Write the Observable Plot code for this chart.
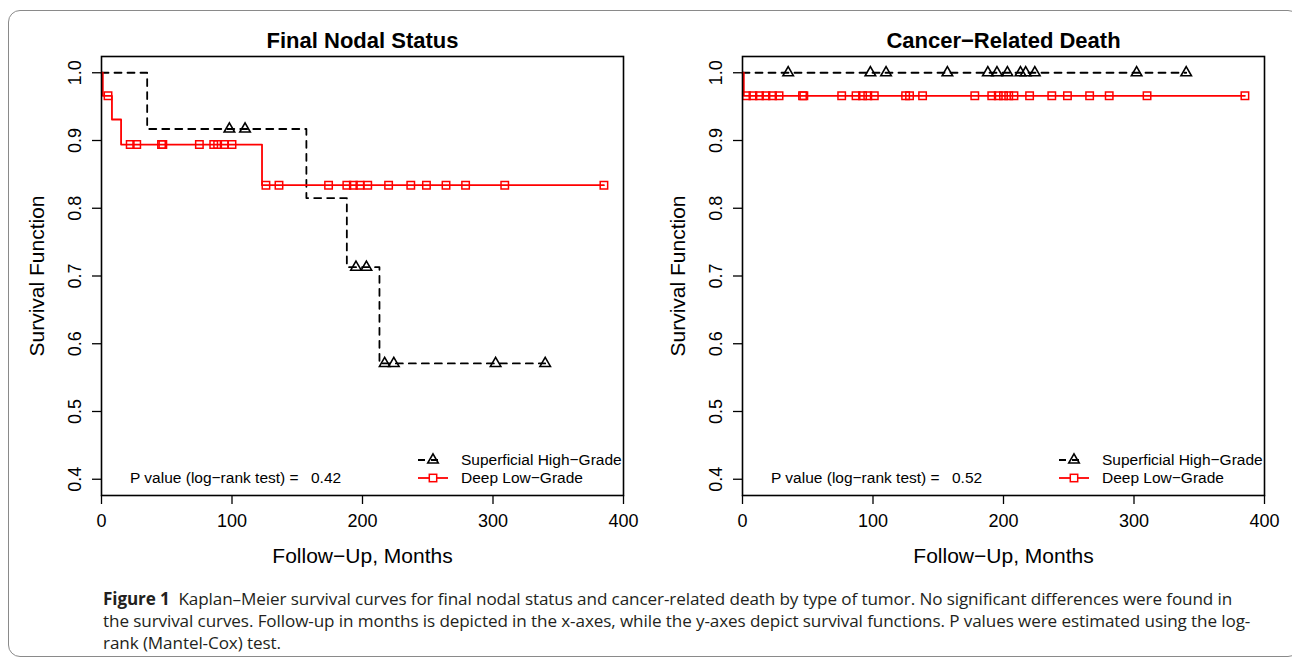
<!DOCTYPE html>
<html>
<head>
<meta charset="utf-8">
<script src="https://cdn.jsdelivr.net/npm/d3@7"></script>
<script src="https://cdn.jsdelivr.net/npm/@observablehq/plot@0.6"></script>
<style>
  body { margin: 0; background: #fff; }
  #wrap { position: relative; width: 1292px; height: 662px; overflow: hidden; background: #fff; }
  #frame { position: absolute; left: 8px; top: 10px; width: 1292px; height: 647px; border: 1.5px solid #8a8a8a; border-radius: 12px; box-sizing: border-box; }
  .panel { position: absolute; top: 0; }
  #left { left: 0; }
  #right { left: 646px; }
  #caption { position: absolute; left: 103px; top: 588px; font-family: "Open Sans", Lato, sans-serif; font-size: 17.1px; line-height: 22px; white-space: nowrap; color: #231f20; letter-spacing: -0.1px; }
  #caption b { font-weight: 700; }
</style>
</head>
<body>
<div id="wrap">
  <div id="frame"></div>
  <div id="left" class="panel"></div>
  <div id="right" class="panel"></div>
  <div id="caption">
    <b>Figure 1</b>&nbsp; Kaplan–Meier survival curves for final nodal status and cancer-related death by type of tumor. No significant differences were found in<br>
    the survival curves. Follow-up in months is depicted in the x-axes, while the y-axes depict survival functions. P values were estimated using the log-<br>
    rank (Mantel-Cox) test.
  </div>
</div>
<script>
// ---------- data ----------
const xTicks = [0, 100, 200, 300, 400];
const yTicks = [0.4, 0.5, 0.6, 0.7, 0.8, 0.9, 1.0];
const seriesNames = ["Superficial High\u2212Grade", "Deep Low\u2212Grade"];

// Panel 1: Final Nodal Status
const nodalHighTime = [0, 35, 157, 188, 213, 340];
const nodalHighSurv = [1.0, 0.917, 0.815, 0.713, 0.571, 0.571];
const nodalHighCensTime = [98, 110, 195, 203, 217, 224, 302, 340];
const nodalHighCensSurv = [0.917, 0.917, 0.713, 0.713, 0.571, 0.571, 0.571, 0.571];
const nodalLowTime = [0, 1, 8, 15, 123, 385];
const nodalLowSurv = [1.0, 0.966, 0.931, 0.894, 0.834, 0.834];
const nodalLowCensTime = [5, 22, 27, 46, 47, 75, 86, 89, 94, 100, 126, 136, 174, 188, 193, 198, 204, 220, 237, 249, 264, 279, 309, 385];
const nodalLowCensSurv = [0.966, 0.894, 0.894, 0.894, 0.894, 0.894, 0.894, 0.894, 0.894, 0.894,
  0.834, 0.834, 0.834, 0.834, 0.834, 0.834, 0.834, 0.834, 0.834, 0.834, 0.834, 0.834, 0.834, 0.834];
const nodalP = "0.42";

// Panel 2: Cancer-Related Death
const deathHighTime = [0, 340];
const deathHighSurv = [1.0, 1.0];
const deathHighCensTime = [35, 98, 110, 157, 188, 195, 203, 213, 217, 224, 302, 340];
const deathHighCensSurv = [1, 1, 1, 1, 1, 1, 1, 1, 1, 1, 1, 1];
const deathLowTime = [0, 1, 385];
const deathLowSurv = [1.0, 0.966, 0.966];
const deathLowCensTime = [3, 8, 13, 18, 23, 28, 46, 47, 76, 87, 92, 96, 101, 125, 128, 138, 178, 191, 196, 200, 204, 208, 220, 237, 249, 266, 281, 310, 385];
const deathLowCensSurv = deathLowCensTime.map(() => 0.966);
const deathP = "0.52";

const zip = (t, s) => t.map((d, i) => ({t: d, s: s[i]}));

const FONT = "'Liberation Sans', Arial, Helvetica, sans-serif";

function panel(el, cfg) {
  const W = 646, H = 580, mT = 56, mB = 85;
  const chart = Plot.plot({
    width: W, height: H,
    marginLeft: cfg.mL, marginRight: cfg.mR, marginTop: mT, marginBottom: mB,
    x: {domain: [0, 400]},
    y: {domain: [0.376, 1.024]},
    style: {fontFamily: FONT, background: "transparent", overflow: "visible", color: "black"},
    marks: [
      Plot.axisX(xTicks, {tickSize: 9, tickPadding: 10, fontSize: 18, label: null, strokeWidth: 1.3}),
      Plot.axisY(yTicks, {tickSize: 9, tickFormat: () => "", label: null, strokeWidth: 1.3}),
      Plot.text(yTicks, {y: d => d, text: d => d.toFixed(1), frameAnchor: "left", dx: -26, rotate: -90, fontSize: 18, lineAnchor: "middle", textAnchor: "middle"}),
      Plot.text([cfg.title], {frameAnchor: "top", dy: -16, fontSize: 22, fontWeight: "bold", lineAnchor: "middle"}),
      Plot.text(["Survival Function"], {frameAnchor: "left", dx: -64, rotate: -90, fontSize: 21, lineAnchor: "middle", textAnchor: "middle"}),
      Plot.text(["Follow\u2212Up, Months"], {frameAnchor: "bottom", dy: 61, fontSize: 21, lineAnchor: "middle"}),
      Plot.line(cfg.high, {x: "t", y: "s", curve: "step-after", stroke: "black", strokeWidth: 1.8, strokeDasharray: "7,6"}),
      Plot.line(cfg.low, {x: "t", y: "s", curve: "step-after", stroke: "#ff0000", strokeWidth: 1.8}),
      Plot.dot(cfg.highC, {x: "t", y: "s", symbol: "triangle", r: 3.9, stroke: "black", strokeWidth: 1.6, fill: "none"}),
      Plot.dot(cfg.lowC, {x: "t", y: "s", symbol: "square", r: 4.2, stroke: "#ff0000", strokeWidth: 1.5, fill: "none"}),
      Plot.frame({stroke: "black", strokeWidth: 1.6})
    ]
  });
  el.appendChild(chart);

  // legend and p-value annotation (frame-relative layout)
  const svg = d3.select(chart);
  const g = svg.append("g").attr("font-family", FONT).attr("font-size", 15.5).attr("text-anchor", "start").attr("fill", "black");
  const L = cfg.mL;
  const r1 = 460, r2 = 478;
  g.append("line").attr("x1", L + 317).attr("x2", L + 347).attr("y1", r1).attr("y2", r1)
    .attr("stroke", "black").attr("stroke-width", 1.8).attr("stroke-dasharray", "7,6,7,100");
  g.append("path").attr("d", d3.symbol(d3.symbolTriangle, Math.PI * 3.9 * 3.9)())
    .attr("transform", `translate(${L + 332},${r1})`).attr("fill", "none").attr("stroke", "black").attr("stroke-width", 1.6);
  g.append("line").attr("x1", L + 317).attr("x2", L + 347).attr("y1", r2).attr("y2", r2)
    .attr("stroke", "#ff0000").attr("stroke-width", 1.8);
  g.append("rect").attr("x", L + 332 - 3.7).attr("y", r2 - 3.7).attr("width", 7.4).attr("height", 7.4)
    .attr("fill", "white").attr("stroke", "#ff0000").attr("stroke-width", 1.5);
  g.append("text").attr("x", L + 360).attr("y", r1).attr("dy", "0.35em").text(seriesNames[0]);
  g.append("text").attr("x", L + 360).attr("y", r2).attr("dy", "0.35em").text(seriesNames[1]);
  g.append("text").attr("x", L + 29).attr("y", r2).attr("dy", "0.35em").text("P value (log\u2212rank test) =");
  g.append("text").attr("x", L + 210).attr("y", r2).attr("dy", "0.35em").text(cfg.p);
}

panel(document.getElementById("left"), {
  title: "Final Nodal Status", mL: 101, mR: 23, p: nodalP,
  high: zip(nodalHighTime, nodalHighSurv), low: zip(nodalLowTime, nodalLowSurv),
  highC: zip(nodalHighCensTime, nodalHighCensSurv), lowC: zip(nodalLowCensTime, nodalLowCensSurv)
});
panel(document.getElementById("right"), {
  title: "Cancer\u2212Related Death", mL: 96, mR: 28, p: deathP,
  high: zip(deathHighTime, deathHighSurv), low: zip(deathLowTime, deathLowSurv),
  highC: zip(deathHighCensTime, deathHighCensSurv), lowC: zip(deathLowCensTime, deathLowCensSurv)
});
</script>
</body>
</html>
